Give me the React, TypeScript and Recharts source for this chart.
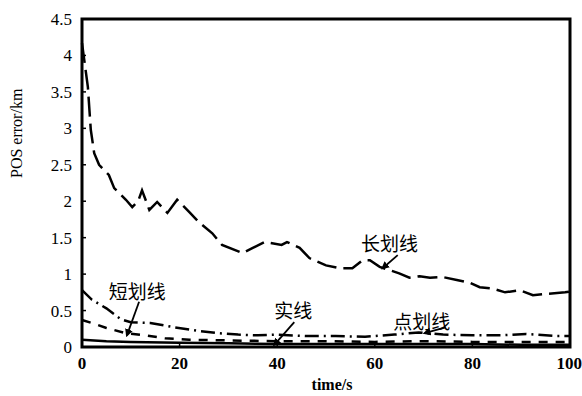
import React from 'react';
import {
  LineChart,
  Line,
  XAxis,
  YAxis,
  ReferenceArea,
  ReferenceDot,
  ReferenceLine,
} from 'recharts';

// 长划线
const longT = [0, 1.2, 1.8, 2.5, 3.5, 5.5, 6.6, 9, 10.3, 11.5, 12.3, 13.8, 15.4, 17.5, 19.5, 22, 24, 26.7, 28.7, 32.9, 35, 37.4, 40.9, 42, 44.6, 46.6, 50, 52.8, 55.4, 57.5, 59, 61, 65, 67.1, 69.2, 71.3, 73.9, 76.8, 79.5, 81.5, 84.2, 86.7, 89.7, 92.4, 95.3, 99, 100];
const longV = [4.17, 3.57, 2.98, 2.66, 2.5, 2.36, 2.18, 2.02, 1.92, 2.0, 2.15, 1.88, 1.99, 1.84, 2.02, 1.85, 1.71, 1.56, 1.4, 1.29, 1.36, 1.44, 1.4, 1.44, 1.36, 1.22, 1.12, 1.08, 1.08, 1.19, 1.19, 1.1, 1.01, 0.95, 0.97, 0.95, 0.96, 0.92, 0.88, 0.82, 0.8, 0.75, 0.78, 0.71, 0.73, 0.75, 0.76];

// 点划线
const dotT = [0, 2, 5, 8, 10, 14, 19, 24, 28, 32, 36, 40, 46, 52, 58, 64, 69, 74, 80, 86, 91, 97, 100];
const dotV = [0.78, 0.65, 0.53, 0.38, 0.34, 0.33, 0.27, 0.22, 0.19, 0.17, 0.16, 0.17, 0.15, 0.15, 0.14, 0.17, 0.2, 0.17, 0.16, 0.16, 0.18, 0.15, 0.15];

// 短划线
const shortT = [0, 2, 5, 9, 13, 17, 22, 30, 40, 50, 60, 70, 80, 90, 100];
const shortV = [0.37, 0.33, 0.26, 0.19, 0.16, 0.12, 0.1, 0.09, 0.08, 0.08, 0.07, 0.08, 0.07, 0.07, 0.07];

// 实线
const solidT = [0, 5, 10, 20, 30, 40, 50, 60, 70, 80, 90, 100];
const solidV = [0.1, 0.08, 0.07, 0.06, 0.05, 0.04, 0.04, 0.04, 0.04, 0.04, 0.03, 0.03];

const xTicks = [0, 20, 40, 60, 80, 100];
const yTicks = [0, 0.5, 1, 1.5, 2, 2.5, 3, 3.5, 4, 4.5];

const toRows = (t: number[], v: number[]) => t.map((x, i) => ({ t: x, v: v[i] }));

const labels = [
  { text: '长划线', t: 63.0, v: 1.43 },
  { text: '短划线', t: 11.3, v: 0.77 },
  { text: '实线', t: 43.3, v: 0.51 },
  { text: '点划线', t: 69.6, v: 0.37 },
];

const arrows = [
  { from: { x: 64.7, y: 1.26 }, to: { x: 61.6, y: 1.08 } },
  { from: { x: 11.7, y: 0.62 }, to: { x: 9.2, y: 0.16 } },
  { from: { x: 43.5, y: 0.34 }, to: { x: 39.4, y: 0.03 } },
  { from: { x: 74.5, y: 0.27 }, to: { x: 70.2, y: 0.19 } },
];

const serif = '"Liberation Serif", "DejaVu Serif", serif';
const cjk = '"Noto Sans CJK SC", sans-serif';

const Arrow = (p: any) => (
  <line x1={p.x1} y1={p.y1} x2={p.x2} y2={p.y2} stroke="#000" strokeWidth={1.8} markerEnd="url(#arrowHead)" />
);

export default function App() {
  return (
    <div style={{ position: 'absolute', left: 0, top: 0, background: '#fff' }}>
      <LineChart width={582} height={396} margin={{ top: 19, right: 12, bottom: 0, left: 0 }}>
        <defs>
          <marker id="arrowHead" markerWidth="8" markerHeight="8" refX="6" refY="4" orient="auto" markerUnits="userSpaceOnUse">
            <path d="M0,0 L8,4 L0,8 z" fill="#000" />
          </marker>
        </defs>
        <XAxis
          dataKey="t"
          type="number"
          domain={[0, 100]}
          ticks={xTicks}
          axisLine={false}
          tickLine={{ stroke: '#000', strokeWidth: 1.5 }}
          tickSize={-4}
          tickMargin={14}
          height={49}
          tick={{ fill: '#000', fontSize: 17, fontFamily: serif, fontWeight: 'bold' }}
          allowDuplicatedCategory={false}
          label={{ value: 'time/s', position: 'insideBottom', offset: 6, fill: '#000', fontSize: 16, fontFamily: serif, fontWeight: 'bold', dx: 6 }}
        />
        <YAxis
          type="number"
          domain={[0, 4.5]}
          ticks={yTicks}
          axisLine={false}
          tickLine={{ stroke: '#000', strokeWidth: 1.5 }}
          tickSize={-4}
          tickMargin={14}
          width={82}
          tick={{ fill: '#000', fontSize: 17, fontFamily: serif }}
          label={{ value: 'POS error/km', angle: -90, position: 'insideLeft', offset: 16, dy: -5, fill: '#000', fontSize: 16, fontFamily: serif }}
        />
        <ReferenceArea x1={0} x2={100} y1={0} y2={4.5} fill="none" stroke="#000" strokeWidth={3} />
        <Line data={toRows(solidT, solidV)} dataKey="v" type="linear" stroke="#000" strokeWidth={2.5} dot={false} isAnimationActive={false} />
        <Line data={toRows(shortT, shortV)} dataKey="v" type="linear" stroke="#000" strokeWidth={2.5} strokeDasharray="9 8" dot={false} isAnimationActive={false} />
        <Line data={toRows(dotT, dotV)} dataKey="v" type="linear" stroke="#000" strokeWidth={2.5} strokeDasharray="14 5 2 5" dot={false} isAnimationActive={false} />
        <Line data={toRows(longT, longV)} dataKey="v" type="linear" stroke="#000" strokeWidth={2.5} strokeDasharray="20 7" dot={false} isAnimationActive={false} />
        {arrows.map((a, i) => (
          <ReferenceLine key={'a' + i} segment={[a.from, a.to]} shape={Arrow} ifOverflow="visible" />
        ))}
        {labels.map((l) => (
          <ReferenceDot
            key={l.text}
            x={l.t}
            y={l.v}
            r={0}
            ifOverflow="visible"
            shape={(p: any) => (
              <text x={p.cx} y={p.cy} textAnchor="middle" dominantBaseline="central" fontSize={19} fontFamily={cjk} fill="#000">
                {l.text}
              </text>
            )}
          />
        ))}
      </LineChart>
    </div>
  );
}
